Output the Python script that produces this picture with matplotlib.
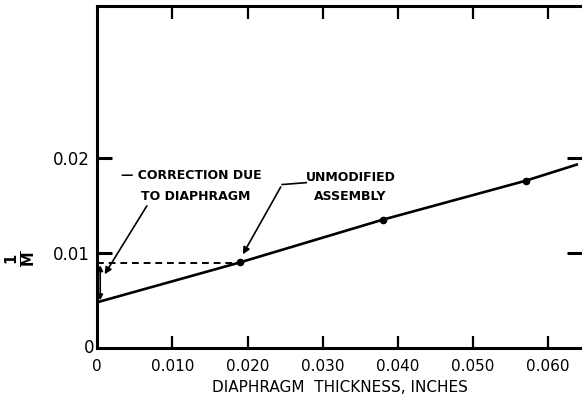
# 1/M against diaphragm thickness, with the correction for the diaphragm

import matplotlib.pyplot as plt

# Measured points
thickness = [0.019, 0.038, 0.057]
inv_m = [0.0090, 0.0135, 0.0176]

# Fitted straight line
line_x = [0.0, 0.019, 0.038, 0.057, 0.0638]
line_y = [0.0048, 0.0090, 0.0135, 0.0176, 0.0193]

# Level of the unmodified assembly
unmod_x = [0.0, 0.019]
unmod_y = [0.0089, 0.0089]

x_ticks = [0, 0.01, 0.02, 0.03, 0.04, 0.05, 0.06]
x_labels = ["0", "0.010", "0.020", "0.030", "0.040", "0.050", "0.060"]
y_ticks = [0, 0.01, 0.02]
y_labels = ["0", "0.01", "0.02"]

fig = plt.figure(figsize=(5.82, 4.04), dpi=100)
ax = fig.add_axes([0.167, 0.139, 0.833, 0.846])

ax.plot(line_x, line_y, color="black", lw=1.9)
ax.plot(thickness, inv_m, "o", color="black", ms=4.5)
ax.plot(unmod_x, unmod_y, color="black", lw=1.4, dashes=(3.5, 2.5))

# correction arrow at zero thickness
ax.annotate("", xy=(0.0004, 0.0050), xytext=(0.0004, 0.0087),
            arrowprops=dict(arrowstyle="<|-|>", color="black", lw=1.2,
                            mutation_scale=8, shrinkA=0, shrinkB=0))

ax.set_xlim(0, 0.0645)
ax.set_ylim(0, 0.036)

ax.set_xticks(x_ticks[1:])
ax.set_xticklabels(x_labels[1:])
ax.set_yticks(y_ticks[1:])
ax.set_yticklabels(y_labels[1:])
ax.text(0, -0.0012, "0", ha="center", va="top", fontsize=11)
ax.text(-0.0004, 0.0, "0", ha="right", va="center", fontsize=12)

ax.tick_params(axis="x", direction="in", length=9, width=1.6, labelsize=11,
               top=True, pad=8)
ax.tick_params(axis="y", direction="in", length=11, width=2.2, labelsize=12,
               right=True, pad=5)

for side in ["left", "bottom", "top"]:
    ax.spines[side].set_linewidth(2.2)
ax.spines["right"].set_visible(False)

ax.set_xlabel("DIAPHRAGM  THICKNESS, INCHES", fontsize=11, labelpad=4)
ax.set_ylabel(r"$\mathbf{\frac{1}{M}}$", fontsize=15, rotation=90)
ax.yaxis.set_label_coords(-0.122, 0.26)

# Annotations
ax.text(0.0032, 0.0182, "— CORRECTION DUE", fontsize=9, fontweight="bold",
        ha="left", va="center")
ax.text(0.0058, 0.0159, "TO DIAPHRAGM", fontsize=9, fontweight="bold",
        ha="left", va="center")
ax.annotate("", xy=(0.0008, 0.0075), xytext=(0.0068, 0.0152),
            arrowprops=dict(arrowstyle="-|>", color="black", lw=1.2,
                            mutation_scale=10))

ax.text(0.0278, 0.0179, "UNMODIFIED", fontsize=9, fontweight="bold",
        ha="left", va="center")
ax.text(0.0288, 0.0159, "ASSEMBLY", fontsize=9, fontweight="bold",
        ha="left", va="center")
ax.annotate("", xy=(0.0192, 0.0096), xytext=(0.0246, 0.0172),
            arrowprops=dict(arrowstyle="-|>", color="black", lw=1.2,
                            mutation_scale=10))
ax.plot([0.0246, 0.0278], [0.0172, 0.0174], color="black", lw=1.2)

fig.savefig("out.png", dpi=100)
